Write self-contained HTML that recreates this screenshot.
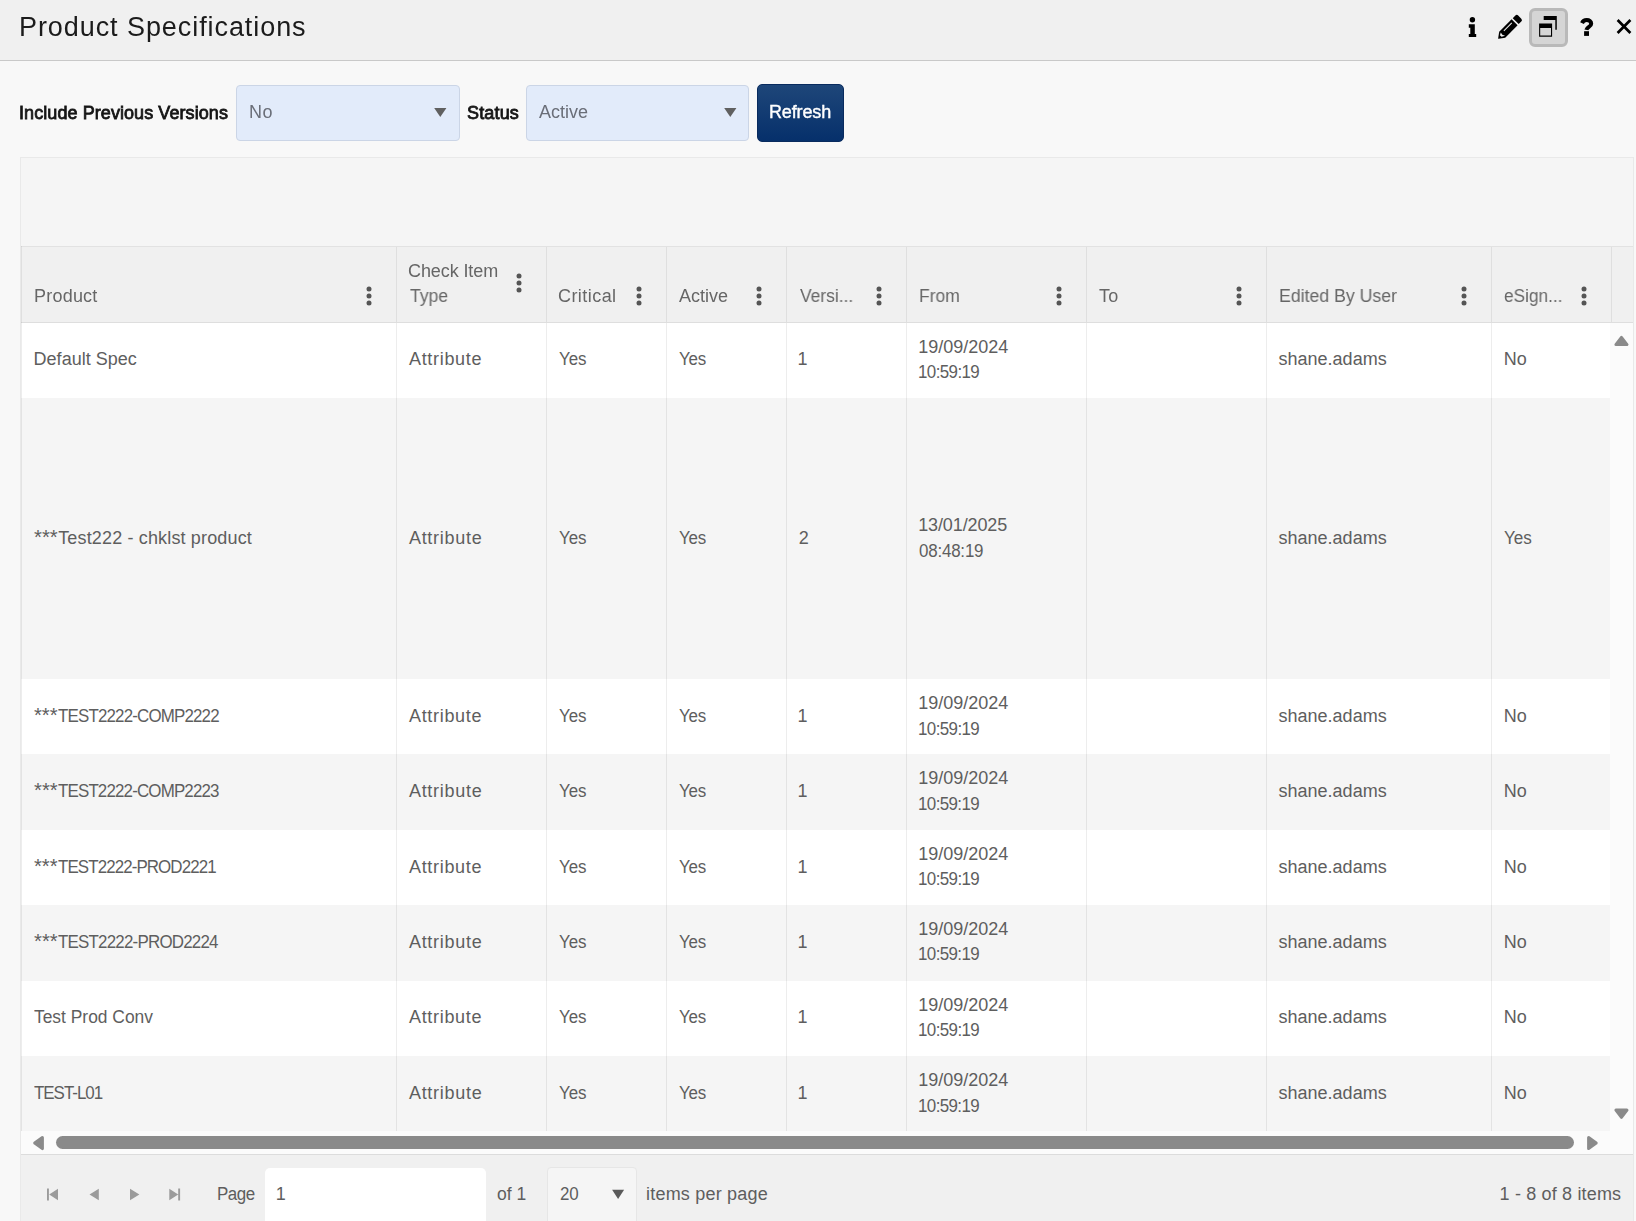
<!DOCTYPE html>
<html><head><meta charset="utf-8"><title>Product Specifications</title>
<style>
html,body{margin:0;padding:0;width:1636px;height:1221px;overflow:hidden}
#r{width:1636px;height:1221px;overflow:hidden;background:#f8f8f8;position:absolute;left:0;top:0;font-family:"Liberation Sans",sans-serif;font-size:18px;color:#595959}
.a{position:absolute}
.t{position:absolute;white-space:nowrap;line-height:26px;height:26px;transform-origin:0 50%}
.g{will-change:transform}
.c{color:#5e5e5e}
.h{color:#666}
.b{color:#151515;-webkit-text-stroke:0.8px #151515}
.w{color:#fff;-webkit-text-stroke:0.4px #fff}
.i{color:#6a6e78}
.ttl{color:#1b1b1b}
svg{display:block}
svg circle{fill:#555}
</style></head><body><div id="r">

<div class="a" style="left:0;top:0;width:1636px;height:60px;background:#f0f0f0;border-bottom:1px solid #c9c9c9"></div>
<div id="t0" class="t ttl g" style="left:18.53px;top:8.5px;letter-spacing:0.927px;font-size:27px;line-height:36px;height:36px;">Product Specifications</div>
<svg class="a" style="left:1464px;top:12px" width="16" height="30" viewBox="0 0 16 30"><circle cx="8.4" cy="7.75" r="2.7" fill="#000" style="fill:#000"/><path d="M4.8 12.35h6v9.6h1.4v3.05H4.8v-3.05h1.5v-6.25H4.8z" fill="#000"/></svg>
<svg class="a" style="left:1494px;top:10px" width="32" height="34" viewBox="0 0 32 34"><g transform="translate(4.18 28.69) rotate(-45)"><path d="M0.3 -0.35L5.7 -4.25H23.2V4.25H5.7L0.3 0.35Q-0.1 0 0.3 -0.35z" fill="#000"/><path d="M24.8 -4.2H28.5a2 2 0 0 1 2 2V2.2a2 2 0 0 1 -2 2H24.8z" fill="#000"/><path d="M9.6 -2.05H20.8V-1.05H9.6z" fill="#f0f0f0"/><path d="M6.3 -2.6L5.8 0.1L6.9 2.8L3.7 1.05L3.7 -1.2z" fill="#f0f0f0"/></g></svg>
<div class="a" style="left:1529px;top:8px;width:33px;height:33px;background:#d5d5d5;border:3px solid #b9b9b9;border-radius:6px"></div>
<svg class="a" style="left:1537px;top:14px" width="22" height="24" viewBox="0 0 22 24"><path d="M6.7 2h13.1v13.7h-1.5V6.1H6.7z" fill="#000"/><path d="M2.1 9.5h13v13.3H2.1zM3.2 14v7.6h10.8V14z" fill="#000" fill-rule="evenodd"/></svg>
<svg class="a" style="left:1578px;top:16px" width="18" height="22" viewBox="0 0 18 22"><path d="M4.0 7.1C5.0 4.9 6.8 4.1 8.7 4.1C11.4 4.1 13.2 5.5 13.2 7.7C13.2 11.0 9.0 10.6 8.4 13.9" fill="none" stroke="#000" stroke-width="4"/><rect x="6.1" y="15.2" width="4.9" height="4.7" fill="#000"/></svg>
<svg class="a" style="left:1614px;top:16px" width="20" height="20" viewBox="0 0 20 20"><path d="M3.6 4L16.4 17M16.4 4L3.6 17" stroke="#000" stroke-width="2.7" fill="none"/></svg>
<div id="t1" class="t b g" style="left:19.42px;top:100px;letter-spacing:0.075px;">Include Previous Versions</div>
<div class="a" style="left:236px;top:85px;width:222px;height:54px;background:#e2ebfa;border:1px solid #cbd5e6;border-radius:4px"></div>
<div id="t2" class="t i g" style="left:249.21px;top:99px;letter-spacing:0.600px;">No</div>
<svg class="a" style="left:434px;top:108px" width="13" height="10" viewBox="0 0 13 10"><path d="M0.2 0h12.2l-6.1 9z" fill="#606060"/></svg>
<div id="t3" class="t b g" style="left:466.52px;top:100px;letter-spacing:0.166px;">Status</div>
<div class="a" style="left:526px;top:85px;width:221px;height:54px;background:#e2ebfa;border:1px solid #cbd5e6;border-radius:4px"></div>
<div id="t4" class="t i g" style="left:539.26px;top:99px;letter-spacing:0.016px;">Active</div>
<svg class="a" style="left:724px;top:108px" width="13" height="10" viewBox="0 0 13 10"><path d="M0.2 0h12.2l-6.1 9z" fill="#606060"/></svg>
<div class="a" style="left:757px;top:84px;width:87px;height:58px;box-sizing:border-box;background:linear-gradient(#1e4679,#06306b);border:1px solid #092b5e;border-radius:5px"></div>
<div id="t5" class="t w g" style="left:769.44px;top:99px;letter-spacing:-0.145px;">Refresh</div>
<div class="a" style="left:20px;top:157px;width:1612px;height:1070px;background:#f5f5f5;border:1px solid #e9e9e9"></div>
<div class="a" style="left:21px;top:246px;width:1612px;height:77px;box-sizing:border-box;background:#f0f0f0;border-top:1px solid #e2e2e2;border-bottom:1px solid #dedede"></div>
<div class="a" style="left:21px;top:323px;width:1589px;height:75px;background:#ffffff"></div>
<div class="a" style="left:21px;top:398px;width:1589px;height:281px;background:#f5f5f5"></div>
<div class="a" style="left:21px;top:679px;width:1589px;height:75px;background:#ffffff"></div>
<div class="a" style="left:21px;top:754px;width:1589px;height:76px;background:#f5f5f5"></div>
<div class="a" style="left:21px;top:830px;width:1589px;height:75px;background:#ffffff"></div>
<div class="a" style="left:21px;top:905px;width:1589px;height:76px;background:#f5f5f5"></div>
<div class="a" style="left:21px;top:981px;width:1589px;height:75px;background:#ffffff"></div>
<div class="a" style="left:21px;top:1056px;width:1589px;height:75px;background:#f5f5f5"></div>
<div class="a" style="left:1610px;top:323px;width:23px;height:831px;background:#fbfbfb"></div>
<div class="a" style="left:21px;top:1131px;width:1612px;height:23px;background:#fbfbfb"></div>
<div class="a" style="left:396px;top:247px;width:1px;height:75px;background:rgba(0,0,0,0.07)"></div>
<div class="a" style="left:396px;top:323px;width:1px;height:808px;background:rgba(0,0,0,0.07)"></div>
<div class="a" style="left:546px;top:247px;width:1px;height:75px;background:rgba(0,0,0,0.07)"></div>
<div class="a" style="left:546px;top:323px;width:1px;height:808px;background:rgba(0,0,0,0.07)"></div>
<div class="a" style="left:666px;top:247px;width:1px;height:75px;background:rgba(0,0,0,0.07)"></div>
<div class="a" style="left:666px;top:323px;width:1px;height:808px;background:rgba(0,0,0,0.07)"></div>
<div class="a" style="left:786px;top:247px;width:1px;height:75px;background:rgba(0,0,0,0.07)"></div>
<div class="a" style="left:786px;top:323px;width:1px;height:808px;background:rgba(0,0,0,0.07)"></div>
<div class="a" style="left:906px;top:247px;width:1px;height:75px;background:rgba(0,0,0,0.07)"></div>
<div class="a" style="left:906px;top:323px;width:1px;height:808px;background:rgba(0,0,0,0.07)"></div>
<div class="a" style="left:1086px;top:247px;width:1px;height:75px;background:rgba(0,0,0,0.07)"></div>
<div class="a" style="left:1086px;top:323px;width:1px;height:808px;background:rgba(0,0,0,0.07)"></div>
<div class="a" style="left:1266px;top:247px;width:1px;height:75px;background:rgba(0,0,0,0.07)"></div>
<div class="a" style="left:1266px;top:323px;width:1px;height:808px;background:rgba(0,0,0,0.07)"></div>
<div class="a" style="left:1491px;top:247px;width:1px;height:75px;background:rgba(0,0,0,0.07)"></div>
<div class="a" style="left:1491px;top:323px;width:1px;height:808px;background:rgba(0,0,0,0.07)"></div>
<div class="a" style="left:1611px;top:247px;width:1px;height:75px;background:rgba(0,0,0,0.07)"></div>
<div class="a" style="left:21px;top:246px;width:1px;height:885px;background:rgba(0,0,0,0.07)"></div>
<div id="t6" class="t h g" style="left:408.42px;top:258px;letter-spacing:-0.098px;">Check Item</div>
<div id="t7" class="t h g" style="left:409.56px;top:283px;transform:scaleX(0.9771);">Type</div>
<svg class="a" style="left:515px;top:272px" width="8" height="22" viewBox="0 0 8 22"><circle cx="4" cy="3.9" r="2.5"/><circle cx="4" cy="11" r="2.5"/><circle cx="4" cy="18.1" r="2.5"/></svg>
<div id="t8" class="t h g" style="left:33.52px;top:283px;letter-spacing:0.218px;">Product</div>
<svg class="a" style="left:365px;top:285px" width="8" height="22" viewBox="0 0 8 22"><circle cx="4" cy="3.9" r="2.5"/><circle cx="4" cy="11" r="2.5"/><circle cx="4" cy="18.1" r="2.5"/></svg>
<div id="t9" class="t h g" style="left:558.44px;top:283px;letter-spacing:0.440px;">Critical</div>
<svg class="a" style="left:635px;top:285px" width="8" height="22" viewBox="0 0 8 22"><circle cx="4" cy="3.9" r="2.5"/><circle cx="4" cy="11" r="2.5"/><circle cx="4" cy="18.1" r="2.5"/></svg>
<div id="t10" class="t h g" style="left:678.98px;top:283px;letter-spacing:-0.014px;">Active</div>
<svg class="a" style="left:755px;top:285px" width="8" height="22" viewBox="0 0 8 22"><circle cx="4" cy="3.9" r="2.5"/><circle cx="4" cy="11" r="2.5"/><circle cx="4" cy="18.1" r="2.5"/></svg>
<div id="t11" class="t h g" style="left:799.75px;top:283px;transform:scaleX(0.9678);">Versi...</div>
<svg class="a" style="left:875px;top:285px" width="8" height="22" viewBox="0 0 8 22"><circle cx="4" cy="3.9" r="2.5"/><circle cx="4" cy="11" r="2.5"/><circle cx="4" cy="18.1" r="2.5"/></svg>
<div id="t12" class="t h g" style="left:918.50px;top:283px;transform:scaleX(0.9711);">From</div>
<svg class="a" style="left:1055px;top:285px" width="8" height="22" viewBox="0 0 8 22"><circle cx="4" cy="3.9" r="2.5"/><circle cx="4" cy="11" r="2.5"/><circle cx="4" cy="18.1" r="2.5"/></svg>
<div id="t13" class="t h g" style="left:1099.30px;top:283px;letter-spacing:0.155px;">To</div>
<svg class="a" style="left:1235px;top:285px" width="8" height="22" viewBox="0 0 8 22"><circle cx="4" cy="3.9" r="2.5"/><circle cx="4" cy="11" r="2.5"/><circle cx="4" cy="18.1" r="2.5"/></svg>
<div id="t14" class="t h g" style="left:1278.50px;top:283px;transform:scaleX(0.9833);">Edited By User</div>
<svg class="a" style="left:1460px;top:285px" width="8" height="22" viewBox="0 0 8 22"><circle cx="4" cy="3.9" r="2.5"/><circle cx="4" cy="11" r="2.5"/><circle cx="4" cy="18.1" r="2.5"/></svg>
<div id="t15" class="t h g" style="left:1504.17px;top:283px;transform:scaleX(0.9583);">eSign...</div>
<svg class="a" style="left:1580px;top:285px" width="8" height="22" viewBox="0 0 8 22"><circle cx="4" cy="3.9" r="2.5"/><circle cx="4" cy="11" r="2.5"/><circle cx="4" cy="18.1" r="2.5"/></svg>
<div id="t16" class="t c" style="left:33.57px;top:346px;letter-spacing:0.019px;">Default Spec</div>
<div id="t17" class="t c" style="left:408.97px;top:346px;letter-spacing:0.687px;">Attribute</div>
<div id="t18" class="t c" style="left:558.53px;top:346px;letter-spacing:-0.075px;transform:scaleX(0.9400);">Yes</div>
<div id="t19" class="t c" style="left:679.29px;top:346px;letter-spacing:-0.145px;transform:scaleX(0.9400);">Yes</div>
<div id="t20" class="t c" style="left:797.61px;top:346px;">1</div>
<div id="t21" class="t c" style="left:918.13px;top:334px;">19/09/2024</div>
<div id="t22" class="t c" style="left:918.01px;top:359px;letter-spacing:-0.630px;transform:scaleX(0.9400);">10:59:19</div>
<div id="t23" class="t c" style="left:1278.57px;top:346px;">shane.adams</div>
<div id="t24" class="t c" style="left:1503.68px;top:346px;letter-spacing:-0.008px;">No</div>
<div id="t25" class="t c" style="left:34.32px;top:524px;transform:scaleX(0.9680);font-size:21px;line-height:26px;height:26px;">***</div>
<div id="t26" class="t c" style="left:58.23px;top:525px;letter-spacing:0.151px;">Test222 - chklst product</div>
<div id="t27" class="t c" style="left:408.95px;top:525px;letter-spacing:0.712px;">Attribute</div>
<div id="t28" class="t c" style="left:558.52px;top:525px;letter-spacing:-0.071px;transform:scaleX(0.9400);">Yes</div>
<div id="t29" class="t c" style="left:679.28px;top:525px;letter-spacing:-0.148px;transform:scaleX(0.9400);">Yes</div>
<div id="t30" class="t c" style="left:798.80px;top:525px;">2</div>
<div id="t31" class="t c" style="left:918.13px;top:512px;letter-spacing:-0.107px;">13/01/2025</div>
<div id="t32" class="t c" style="left:919.10px;top:538px;letter-spacing:-0.206px;transform:scaleX(0.9400);">08:48:19</div>
<div id="t33" class="t c" style="left:1278.57px;top:525px;">shane.adams</div>
<div id="t34" class="t c" style="left:1503.60px;top:525px;transform:scaleX(0.9486);">Yes</div>
<div id="t35" class="t c" style="left:34.32px;top:702px;transform:scaleX(0.9635);font-size:21px;line-height:26px;height:26px;">***</div>
<div id="t36" class="t c" style="left:58.45px;top:703px;letter-spacing:-0.886px;transform:scaleX(0.9400);">TEST2222-COMP2222</div>
<div id="t37" class="t c" style="left:408.97px;top:703px;letter-spacing:0.687px;">Attribute</div>
<div id="t38" class="t c" style="left:558.53px;top:703px;letter-spacing:-0.075px;transform:scaleX(0.9400);">Yes</div>
<div id="t39" class="t c" style="left:679.29px;top:703px;letter-spacing:-0.145px;transform:scaleX(0.9400);">Yes</div>
<div id="t40" class="t c" style="left:797.61px;top:703px;">1</div>
<div id="t41" class="t c" style="left:918.13px;top:690px;">19/09/2024</div>
<div id="t42" class="t c" style="left:918.01px;top:716px;letter-spacing:-0.630px;transform:scaleX(0.9400);">10:59:19</div>
<div id="t43" class="t c" style="left:1278.57px;top:703px;">shane.adams</div>
<div id="t44" class="t c" style="left:1503.68px;top:703px;letter-spacing:-0.008px;">No</div>
<div id="t45" class="t c" style="left:34.32px;top:777px;transform:scaleX(0.9640);font-size:21px;line-height:26px;height:26px;">***</div>
<div id="t46" class="t c" style="left:58.47px;top:778px;letter-spacing:-0.896px;transform:scaleX(0.9400);">TEST2222-COMP2223</div>
<div id="t47" class="t c" style="left:408.95px;top:778px;letter-spacing:0.712px;">Attribute</div>
<div id="t48" class="t c" style="left:558.52px;top:778px;letter-spacing:-0.071px;transform:scaleX(0.9400);">Yes</div>
<div id="t49" class="t c" style="left:679.28px;top:778px;letter-spacing:-0.148px;transform:scaleX(0.9400);">Yes</div>
<div id="t50" class="t c" style="left:797.61px;top:778px;">1</div>
<div id="t51" class="t c" style="left:918.13px;top:765px;">19/09/2024</div>
<div id="t52" class="t c" style="left:918.04px;top:791px;letter-spacing:-0.635px;transform:scaleX(0.9400);">10:59:19</div>
<div id="t53" class="t c" style="left:1278.57px;top:778px;">shane.adams</div>
<div id="t54" class="t c" style="left:1503.68px;top:778px;letter-spacing:-0.023px;">No</div>
<div id="t55" class="t c" style="left:34.32px;top:853px;transform:scaleX(0.9635);font-size:21px;line-height:26px;height:26px;">***</div>
<div id="t56" class="t c" style="left:58.45px;top:854px;letter-spacing:-0.960px;transform:scaleX(0.9400);">TEST2222-PROD2221</div>
<div id="t57" class="t c" style="left:408.97px;top:854px;letter-spacing:0.687px;">Attribute</div>
<div id="t58" class="t c" style="left:558.53px;top:854px;letter-spacing:-0.075px;transform:scaleX(0.9400);">Yes</div>
<div id="t59" class="t c" style="left:679.29px;top:854px;letter-spacing:-0.145px;transform:scaleX(0.9400);">Yes</div>
<div id="t60" class="t c" style="left:797.61px;top:854px;">1</div>
<div id="t61" class="t c" style="left:918.13px;top:841px;">19/09/2024</div>
<div id="t62" class="t c" style="left:918.01px;top:866px;letter-spacing:-0.630px;transform:scaleX(0.9400);">10:59:19</div>
<div id="t63" class="t c" style="left:1278.57px;top:854px;">shane.adams</div>
<div id="t64" class="t c" style="left:1503.68px;top:854px;letter-spacing:-0.008px;">No</div>
<div id="t65" class="t c" style="left:34.32px;top:928px;transform:scaleX(0.9640);font-size:21px;line-height:26px;height:26px;">***</div>
<div id="t66" class="t c" style="left:58.47px;top:929px;letter-spacing:-0.834px;transform:scaleX(0.9400);">TEST2222-PROD2224</div>
<div id="t67" class="t c" style="left:408.95px;top:929px;letter-spacing:0.712px;">Attribute</div>
<div id="t68" class="t c" style="left:558.52px;top:929px;letter-spacing:-0.071px;transform:scaleX(0.9400);">Yes</div>
<div id="t69" class="t c" style="left:679.28px;top:929px;letter-spacing:-0.148px;transform:scaleX(0.9400);">Yes</div>
<div id="t70" class="t c" style="left:797.61px;top:929px;">1</div>
<div id="t71" class="t c" style="left:918.13px;top:916px;">19/09/2024</div>
<div id="t72" class="t c" style="left:918.04px;top:941px;letter-spacing:-0.635px;transform:scaleX(0.9400);">10:59:19</div>
<div id="t73" class="t c" style="left:1278.57px;top:929px;">shane.adams</div>
<div id="t74" class="t c" style="left:1503.68px;top:929px;letter-spacing:-0.023px;">No</div>
<div id="t75" class="t c" style="left:34.30px;top:1004px;transform:scaleX(0.9665);">Test Prod Conv</div>
<div id="t76" class="t c" style="left:408.97px;top:1004px;letter-spacing:0.687px;">Attribute</div>
<div id="t77" class="t c" style="left:558.53px;top:1004px;letter-spacing:-0.075px;transform:scaleX(0.9400);">Yes</div>
<div id="t78" class="t c" style="left:679.29px;top:1004px;letter-spacing:-0.145px;transform:scaleX(0.9400);">Yes</div>
<div id="t79" class="t c" style="left:797.61px;top:1004px;">1</div>
<div id="t80" class="t c" style="left:918.13px;top:992px;">19/09/2024</div>
<div id="t81" class="t c" style="left:918.01px;top:1017px;letter-spacing:-0.630px;transform:scaleX(0.9400);">10:59:19</div>
<div id="t82" class="t c" style="left:1278.57px;top:1004px;">shane.adams</div>
<div id="t83" class="t c" style="left:1503.68px;top:1004px;letter-spacing:-0.008px;">No</div>
<div id="t84" class="t c" style="left:34.32px;top:1080px;letter-spacing:-1.064px;transform:scaleX(0.9400);">TEST-L01</div>
<div id="t85" class="t c" style="left:408.95px;top:1080px;letter-spacing:0.712px;">Attribute</div>
<div id="t86" class="t c" style="left:558.52px;top:1080px;letter-spacing:-0.071px;transform:scaleX(0.9400);">Yes</div>
<div id="t87" class="t c" style="left:679.28px;top:1080px;letter-spacing:-0.148px;transform:scaleX(0.9400);">Yes</div>
<div id="t88" class="t c" style="left:797.61px;top:1080px;">1</div>
<div id="t89" class="t c" style="left:918.13px;top:1067px;">19/09/2024</div>
<div id="t90" class="t c" style="left:918.04px;top:1093px;letter-spacing:-0.635px;transform:scaleX(0.9400);">10:59:19</div>
<div id="t91" class="t c" style="left:1278.57px;top:1080px;">shane.adams</div>
<div id="t92" class="t c" style="left:1503.68px;top:1080px;letter-spacing:-0.023px;">No</div>
<svg class="a" style="left:1612px;top:333px" width="20" height="16" viewBox="0 0 20 16"><path d="M3.9 11.6L9.45 4.4L15.0 11.6z" fill="#8a8a8a" stroke="#8a8a8a" stroke-width="3" stroke-linejoin="round"/></svg>
<svg class="a" style="left:1612px;top:1106px" width="20" height="16" viewBox="0 0 20 16"><path d="M3.9 4.1L9.45 11.3L15.0 4.1z" fill="#8a8a8a" stroke="#8a8a8a" stroke-width="3" stroke-linejoin="round"/></svg>
<svg class="a" style="left:30px;top:1134px" width="16" height="18" viewBox="0 0 16 18"><path d="M12.4 3.4L4.7 9L12.4 14.6z" fill="#8a8a8a" stroke="#8a8a8a" stroke-width="3" stroke-linejoin="round"/></svg>
<svg class="a" style="left:1584px;top:1134px" width="16" height="18" viewBox="0 0 16 18"><path d="M4.6 3.5L12.2 9L4.6 14.5z" fill="#8a8a8a" stroke="#8a8a8a" stroke-width="3" stroke-linejoin="round"/></svg>
<div class="a" style="left:56px;top:1136px;width:1518px;height:13px;border-radius:7px;background:#8a8a8a"></div>
<div class="a" style="left:21px;top:1154px;width:1612px;height:70px;background:#f0f0f0;border-top:1px solid #dcdcdc"></div>
<svg class="a" style="left:44px;top:1186px" width="16" height="16" viewBox="0 0 16 16"><path d="M3.0 2.6h1.9v11.8H3.0z M14.0 2.7v11.6L5.2 8.5z" fill="#9b9b9b"/></svg>
<svg class="a" style="left:86px;top:1186px" width="16" height="16" viewBox="0 0 16 16"><path d="M12.8 2.7v11.6L3.5 8.5z" fill="#9b9b9b"/></svg>
<svg class="a" style="left:126px;top:1186px" width="16" height="16" viewBox="0 0 16 16"><path d="M4.0 2.7v11.6L13.4 8.5z" fill="#9b9b9b"/></svg>
<svg class="a" style="left:166px;top:1186px" width="16" height="16" viewBox="0 0 16 16"><path d="M12.2 2.6h1.9v11.8h-1.9z M3.3 2.7v11.6L12.2 8.5z" fill="#9b9b9b"/></svg>
<div id="t93" class="t c" style="left:216.96px;top:1181px;letter-spacing:-0.521px;transform:scaleX(0.9400);">Page</div>
<div class="a" style="left:265px;top:1168px;width:221px;height:60px;background:#fff;border-radius:5px"></div>
<div id="t94" class="t c" style="left:275.64px;top:1181px;">1</div>
<div id="t95" class="t c" style="left:497.48px;top:1181px;transform:scaleX(0.9735);">of 1</div>
<div class="a" style="left:547px;top:1167px;width:88px;height:60px;background:#f5f5f5;border:1px solid #e6e6e6;border-radius:4px"></div>
<div id="t96" class="t c" style="left:559.51px;top:1181px;letter-spacing:-0.169px;transform:scaleX(0.9400);">20</div>
<svg class="a" style="left:612px;top:1189px" width="13" height="11" viewBox="0 0 13 11"><path d="M0.1 0.8h12l-6 9.2z" fill="#5a5a5a"/></svg>
<div id="t97" class="t c" style="left:646.05px;top:1181px;letter-spacing:0.197px;">items per page</div>
<div id="t98" class="t c" style="left:1499.59px;top:1181px;letter-spacing:0.163px;">1 - 8 of 8 items</div>
</div></body></html>
